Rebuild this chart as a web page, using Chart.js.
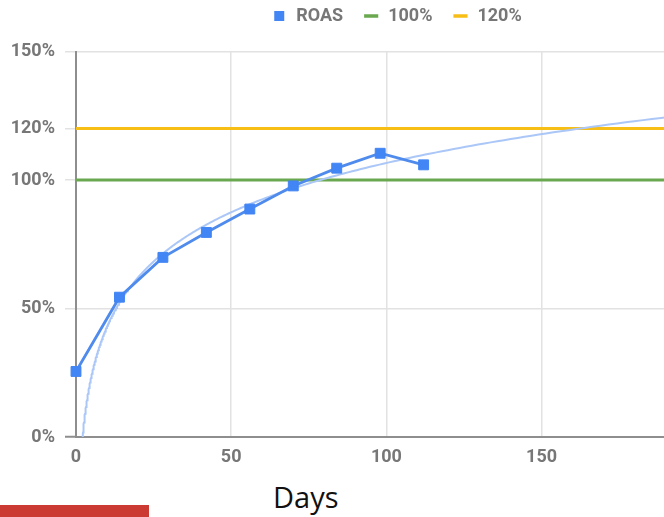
<!DOCTYPE html>
<html>
<head>
<meta charset="utf-8">
<script src="https://cdn.jsdelivr.net/npm/chart.js@4/dist/chart.umd.min.js"></script>
<style>
  html, body { margin: 0; padding: 0; background: #fff; overflow: hidden; width: 664px; height: 517px; }
  #wrap { position: relative; width: 664px; height: 517px; overflow: hidden; }
  #chart { position: absolute; left: 0; top: -13px; }
  #days { position: absolute; left: 273px; top: 480px; font-family: 'Open Sans', sans-serif; font-size: 29px; line-height: 34px; color: #111; }
  #bar { position: absolute; left: 0; top: 505px; width: 149px; height: 12px; background: #cc3b33; }
</style>
</head>
<body>
<div id="wrap">
  <canvas id="chart" width="793" height="490"></canvas>
  <div id="days">Days</div>
  <div id="bar"></div>
</div>
<script>
// Days since install and cumulative ROAS (%)
const days = [0, 14, 28, 42, 56, 70, 84, 98, 112];
const roas = [25.5, 54.4, 69.9, 79.6, 88.7, 97.7, 104.6, 110.4, 105.9];
// Break-even and target levels (%)
const breakEven = 100;
const target = 120;
const seriesNames = ['ROAS', '100%', '120%'];
const yTicks = [0, 50, 100, 120, 150];
const xTicks = [0, 50, 100, 150, 200];
const xMax = 231;

// Logarithmic trendline (least squares of ROAS on ln(day), day > 0)
const fitPts = days.map((d, i) => [d, roas[i]]).filter(p => p[0] > 0);
const lx = fitPts.map(p => Math.log(p[0]));
const ly = fitPts.map(p => p[1]);
const mx = lx.reduce((s, v) => s + v, 0) / lx.length;
const my = ly.reduce((s, v) => s + v, 0) / ly.length;
let sxy = 0, sxx = 0;
lx.forEach((v, i) => { sxy += (v - mx) * (ly[i] - my); sxx += (v - mx) * (v - mx); });
const slope = sxy / sxx;
const intercept = my - slope * mx;
const x0 = Math.exp(-intercept / slope);
const trend = [];
for (let k = 0; k <= 300; k++) {
  const x = x0 * Math.pow(xMax / x0, k / 300);
  trend.push({ x: x, y: slope * Math.log(x) + intercept });
}

const tickFont = { family: 'Roboto', size: 18, weight: 'bold' };
const tickColor = '#777777';
const axisColor = '#8e8e8e';
const gridColor = '#e2e2e2';

// fixed axis boxes so the plot area lands where it should
const noPad = s => { s.paddingLeft = 0; s.paddingRight = 0; s.paddingTop = 0; s.paddingBottom = 0; };
const fixX = s => { s.height = 40; noPad(s); };
const fixY = s => { s.width = 76; noPad(s); };
const fixGap = s => { s.height = 16.5; noPad(s); };

new Chart(document.getElementById('chart'), {
  type: 'scatter',
  data: {
    datasets: [
      {
        label: seriesNames[0],
        data: days.map((d, i) => ({ x: d, y: roas[i] })),
        showLine: true,
        clip: false,
        borderColor: '#4f8bec',
        borderWidth: 2.8,
        backgroundColor: '#4285f4',
        pointStyle: 'rect',
        pointRadius: 7,
        pointBorderWidth: 1,
        pointBackgroundColor: '#4285f4',
        pointBorderColor: '#4285f4',
        tension: 0,
        legendStyle: 'rect'
      },
      {
        label: 'trend',
        data: trend,
        showLine: true,
        borderColor: '#abc7f7',
        borderWidth: 2,
        pointRadius: 0,
        tension: 0,
        legendStyle: null
      },
      {
        label: seriesNames[1],
        data: [{ x: 0, y: breakEven }, { x: xMax, y: breakEven }],
        showLine: true,
        borderColor: '#6aa84f',
        borderWidth: 3,
        pointRadius: 0,
        legendStyle: 'line'
      },
      {
        label: seriesNames[2],
        data: [{ x: 0, y: target }, { x: xMax, y: target }],
        showLine: true,
        borderColor: '#f7be16',
        borderWidth: 3,
        pointRadius: 0,
        legendStyle: 'line'
      }
    ]
  },
  options: {
    responsive: false,
    animation: false,
    devicePixelRatio: 1,
    layout: { autoPadding: false, padding: { left: 0, right: 0, top: 0, bottom: 0 } },
    plugins: {
      tooltip: { enabled: false },
      legend: {
        position: 'top',
        labels: {
          usePointStyle: true,
          boxWidth: 16,
          boxHeight: 10,
          padding: 20,
          color: tickColor,
          font: tickFont,
          generateLabels(chart) {
            return chart.data.datasets.map((ds, i) => ({
              text: ds.label,
              fillStyle: ds.legendStyle === 'rect' ? ds.backgroundColor : ds.borderColor,
              strokeStyle: ds.borderColor,
              lineWidth: ds.legendStyle === 'rect' ? 0 : 3.5,
              pointStyle: ds.legendStyle,
              fontColor: tickColor,
              hidden: false,
              datasetIndex: i
            })).filter(item => item.pointStyle);
          }
        }
      }
    },
    scales: {
      x: {
        type: 'linear',
        min: 0,
        max: xMax,
        afterBuildTicks: s => { s.ticks = xTicks.map(v => ({ value: v })); },
        afterFit: fixX,
        ticks: { font: tickFont, color: tickColor, padding: 10, maxRotation: 0, autoSkip: false },
        grid: { color: gridColor, lineWidth: 1.5, drawTicks: false },
        border: { display: true, color: axisColor, width: 2 }
      },
      // blank strip between the legend row and the plot
      gap: {
        type: 'linear',
        position: 'top',
        min: 0,
        max: xMax,
        afterFit: fixGap,
        ticks: { display: false },
        grid: { display: false, drawTicks: false },
        border: { display: false }
      },
      y: {
        type: 'linear',
        min: 0,
        max: 150,
        afterBuildTicks: s => { s.ticks = yTicks.map(v => ({ value: v })); },
        afterFit: fixY,
        ticks: { font: tickFont, color: tickColor, padding: 10, callback: v => v + '%' },
        grid: {
          color: gridColor,
          lineWidth: 1.5,
          tickLength: 11,
          tickColor: c => (c.tick && c.tick.value === 0 ? axisColor : gridColor),
          tickWidth: c => (c.tick && c.tick.value === 0 ? 2 : 1.5)
        },
        border: { display: true, color: axisColor, width: 2 }
      }
    }
  }
});
</script>
</body>
</html>
